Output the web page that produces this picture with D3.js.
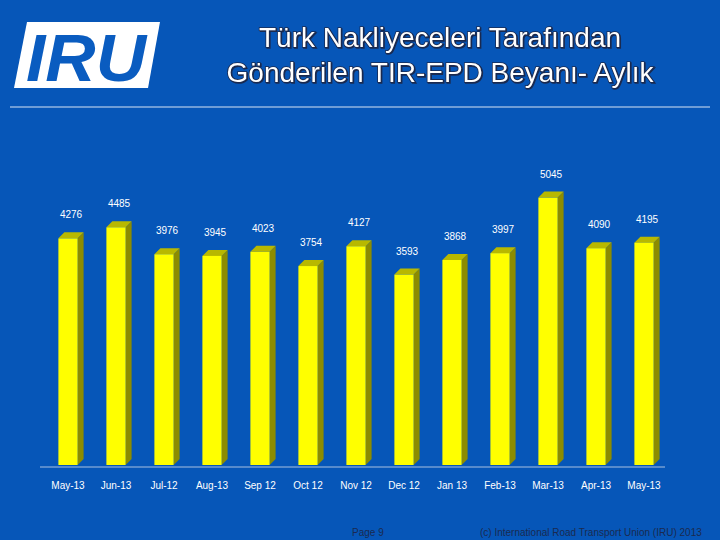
<!DOCTYPE html>
<html><head><meta charset="utf-8">
<script src="https://cdn.jsdelivr.net/npm/d3@7"></script>
<style>body{margin:0;background:#0656b8;}svg{display:block;font-family:"Liberation Sans",Arial,sans-serif;}</style>
</head><body>
<script>
const months = ['May-13','Jun-13','Jul-12','Aug-13','Sep 12','Oct 12','Nov 12','Dec 12','Jan 13','Feb-13','Mar-13','Apr-13','May-13'];
const values = [4276,4485,3976,3945,4023,3754,4127,3593,3868,3997,5045,4090,4195];

const svg = d3.select('body').append('svg').attr('width',720).attr('height',540);
svg.append('rect').attr('width',720).attr('height',540).attr('fill','#0656b8');

// logo
const logo = svg.append('g');
logo.append('polygon').attr('points','27,22 160,22 148,88 14,88').attr('fill','#fff');
logo.append('text').attr('x',86).attr('y',81).attr('text-anchor','middle')
  .attr('font-size',66).attr('font-weight','bold').attr('font-style','italic')
  .attr('fill','#0a5cc0').attr('textLength',120).attr('lengthAdjust','spacingAndGlyphs').text('IRU');

// title
[['Türk Nakliyeceleri Tarafından',47],['Gönderilen TIR-EPD Beyanı- Aylık',82]].forEach(([t,y])=>{
  svg.append('text').attr('x',440).attr('y',y).attr('text-anchor','middle').attr('font-size',28)
    .attr('fill','#fff').attr('stroke','#1a2a50').attr('stroke-width',1.6).attr('paint-order','stroke')
    .style('filter','drop-shadow(1px 1px 0 #1a2a50)').text(t);
});
svg.append('line').attr('x1',10).attr('x2',710).attr('y1',107).attr('y2',107).attr('stroke','#d8e4f4').attr('stroke-width',1);

const x = d3.scaleBand().domain(d3.range(months.length)).range([44,668]).paddingInner(0.6).paddingOuter(0.3);
const y = d3.scaleLinear().domain([0,6000]).range([465,147]);
const dx = 6, dy = 6;

svg.append('line').attr('x1',40).attr('x2',665).attr('y1',467).attr('y2',467).attr('stroke','#a8c0e0');

const g = svg.append('g');
values.forEach((v,i)=>{
  const x0 = x(i), w = x.bandwidth(), yt = y(v), yb = y(0);
  g.append('polygon').attr('points',`${x0+w},${yt} ${x0+w+dx},${yt-dy} ${x0+w+dx},${yb-dy} ${x0+w},${yb}`).attr('fill','#8c8c00');
  g.append('polygon').attr('points',`${x0},${yt} ${x0+dx},${yt-dy} ${x0+w+dx},${yt-dy} ${x0+w},${yt}`).attr('fill','#b8b800');
  g.append('rect').attr('x',x0).attr('y',yt).attr('width',w).attr('height',yb-yt).attr('fill','#ffff00');
  g.append('text').attr('x',x0+w/2+3).attr('y',yt-20).attr('text-anchor','middle').attr('font-size',10)
    .attr('fill','#fff').text(v);
  g.append('text').attr('x',x0+w/2).attr('y',489).attr('text-anchor','middle').attr('font-size',10)
    .attr('fill','#fff').text(months[i]);
});

svg.append('text').attr('x',352).attr('y',536).attr('font-size',10).attr('fill','#1a2a50').text('Page 9');
svg.append('text').attr('x',480).attr('y',536).attr('font-size',10).attr('fill','#1a2a50').text('(c) International Road Transport Union (IRU) 2013');
</script>
</body></html>
